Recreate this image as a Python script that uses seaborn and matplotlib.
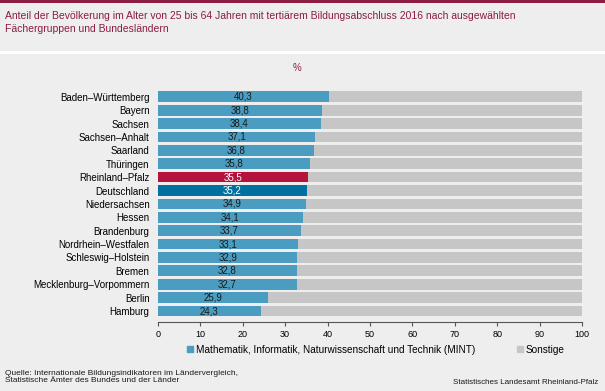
import matplotlib
matplotlib.use("Agg")
import matplotlib.pyplot as plt
import matplotlib.patches as mpatches
import seaborn as sns
import pandas as pd

laender = ['Baden–Württemberg', 'Bayern', 'Sachsen', 'Sachsen–Anhalt', 'Saarland',
           'Thüringen', 'Rheinland–Pfalz', 'Deutschland', 'Niedersachsen', 'Hessen',
           'Brandenburg', 'Nordrhein–Westfalen', 'Schleswig–Holstein', 'Bremen',
           'Mecklenburg–Vorpommern', 'Berlin', 'Hamburg']
mint = [40.3, 38.8, 38.4, 37.1, 36.8, 35.8, 35.5, 35.2, 34.9, 34.1,
        33.7, 33.1, 32.9, 32.8, 32.7, 25.9, 24.3]
gesamt = [100] * len(laender)
xticks = list(range(0, 101, 10))

bg = '#EDEEED'
c_mint = '#4A9CC0'
c_rlp = '#B5123E'
c_de = '#0070A0'
c_sonst = '#C6C6C6'
c_title = '#8C1D40'

plt.rcParams['font.family'] = ['Liberation Sans', 'DejaVu Sans']

df = pd.DataFrame({'land': laender, 'mint': mint, 'gesamt': gesamt})
farben = {l: (c_rlp if l == 'Rheinland–Pfalz' else c_de if l == 'Deutschland' else c_mint)
          for l in laender}

fig = plt.figure(figsize=(6.05, 3.91), dpi=100, facecolor=bg)
ax = fig.add_axes([0.261, 0.184, 0.701, 0.589])
ax.set_facecolor(bg)

sns.barplot(data=df, x='gesamt', y='land', color=c_sonst, width=0.8, saturation=1, ax=ax)
sns.barplot(data=df, x='mint', y='land', hue='land', palette=farben, legend=False,
            width=0.8, saturation=1, ax=ax)

for i, v in enumerate(mint):
    weiss = laender[i] in ('Rheinland–Pfalz', 'Deutschland')
    ax.text(v / 2, i, f'{v:.1f}'.replace('.', ','), ha='center', va='center',
            fontsize=7, color='white' if weiss else '#1a1a1a')

ax.set_xlim(0, 100)
ax.set_ylim(16.6, -0.6)
ax.set_xticks(xticks)
ax.tick_params(axis='x', labelsize=6.5, length=3, color='#555555', pad=3)
ax.tick_params(axis='y', labelsize=7, length=0, pad=6)
ax.set_xlabel('')
ax.set_ylabel('')
for s in ['top', 'right', 'left']:
    ax.spines[s].set_visible(False)
ax.spines['bottom'].set_color('#555555')
ax.spines['bottom'].set_position(('outward', 2))

# Rahmen und Titel
fig.add_artist(mpatches.Rectangle((0, 1 - 3 / 391), 1, 3 / 391, transform=fig.transFigure,
                                  color=c_title, lw=0))
fig.add_artist(mpatches.Rectangle((0, 1 - 54 / 391), 1, 3 / 391, transform=fig.transFigure,
                                  color='white', lw=0))
fig.text(5 / 605, 1 - 11 / 391,
         'Anteil der Bevölkerung im Alter von 25 bis 64 Jahren mit tertiärem Bildungsabschluss 2016 nach ausgewählten\nFächergruppen und Bundesländern',
         ha='left', va='top', fontsize=7.5, color=c_title, linespacing=1.35)
fig.text(297 / 605, 1 - 68 / 391, '%', ha='center', va='center', fontsize=7, color=c_title)

handles = [mpatches.Patch(color=c_mint, label='Mathematik, Informatik, Naturwissenschaft und Technik (MINT)'),
           mpatches.Patch(color=c_sonst, label='Sonstige')]
fig.legend(handles=handles, loc='center', bbox_to_anchor=(376 / 605, 1 - 350 / 391),
           ncol=2, frameon=False, fontsize=7.2, handlelength=0.55, handleheight=0.55,
           handletextpad=0.3, columnspacing=4.2)

fig.text(5 / 605, 1 - 377 / 391,
         'Quelle: Internationale Bildungsindikatoren im Ländervergleich,\nStatistische Ämter des Bundes und der Länder',
         ha='left', va='center', fontsize=6, color='#1a1a1a', linespacing=1.1)
fig.text(598 / 605, 1 - 382 / 391, 'Statistisches Landesamt Rheinland-Pfalz',
         ha='right', va='center', fontsize=5.8, color='#1a1a1a')

fig.savefig('out.png', dpi=100, facecolor=bg)
